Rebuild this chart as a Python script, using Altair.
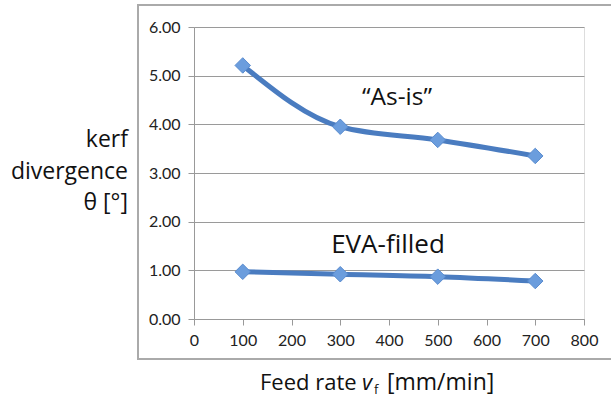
import altair as alt
import pandas as pd

feed = [100, 300, 500, 700]
as_is = [5.21, 3.95, 3.68, 3.35]
eva = [0.97, 0.92, 0.87, 0.78]
series_names = ["As-is", "EVA-filled"]

df = pd.DataFrame({
    "feed": feed * 2,
    "theta": as_is + eva,
    "series": [series_names[0]] * 4 + [series_names[1]] * 4,
})

W, H = 390, 292
LINE = "#4a7cc0"
FILL = "#6b9ddd"
TICKFONT = "Lato"

x_scale = alt.Scale(domain=[0, 800], nice=False, zero=True)
y_scale = alt.Scale(domain=[0, 6], nice=False)

base = alt.Chart(df)

lines = base.mark_line(strokeWidth=5, color=LINE, interpolate="monotone").encode(
    x=alt.X("feed:Q", scale=x_scale,
            axis=alt.Axis(values=[0, 100, 200, 300, 400, 500, 600, 700, 800], title=None,
                          grid=False, domainColor="#999999", tickColor="#999999",
                          tickSize=6, labelFont=TICKFONT, labelFontSize=16,
                          labelColor="#222222", labelPadding=7, labelFlush=False)),
    y=alt.Y("theta:Q", scale=y_scale,
            axis=alt.Axis(values=[0, 1, 2, 3, 4, 5, 6], format=".2f", title=None,
                          grid=True, gridColor="#9a9a9a", gridWidth=1,
                          domainColor="#999999", tickColor="#999999", tickSize=6,
                          labelFont=TICKFONT, labelFontSize=16, labelColor="#222222",
                          labelPadding=8)),
    detail="series:N",
)

points = base.mark_point(shape="diamond", filled=True, size=240, color=FILL,
                         stroke="#5a8ccf", strokeWidth=1, opacity=1).encode(
    x=alt.X("feed:Q", scale=x_scale),
    y=alt.Y("theta:Q", scale=y_scale),
)

frame = alt.Chart(pd.DataFrame({"a": [0]})).mark_rect(
    fill=None, stroke="#aaaaaa", strokeWidth=2, clip=False
).encode(x=alt.value(-56), x2=alt.value(440), y=alt.value(-22), y2=alt.value(332))

def txt(s, x, y, size, align="center", style="normal", font="Open Sans"):
    return alt.Chart(pd.DataFrame({"t": [s]})).mark_text(
        align=align, baseline="middle", fontSize=size, font=font, fontStyle=style,
        color="#111111", clip=False
    ).encode(text="t:N", x=alt.value(x), y=alt.value(y))

ann = (
    txt("\u201cAs-is\u201d", 203, 71, 24.5)
    + txt("EVA-filled", 194, 218, 26)
    + txt("kerf", -66, 113, 23, align="right")
    + txt("divergence", -66, 145, 23, align="right")
    + txt("\u03b8 [\u00b0]", -66, 176, 23, align="right")
    + txt("Feed rate", 66, 356, 22, align="left")
    + txt("v", 168, 356, 22, align="left", style="italic")
    + txt("f", 180, 363, 13, align="left")
    + txt("[mm/min]", 193, 356, 23, align="left")
)

chart = alt.layer(frame, lines, points, ann).properties(
    width=W, height=H,
    autosize=alt.AutoSizeParams(type="none"),
    padding={"left": 194, "top": 27, "right": 27, "bottom": 84},
).configure_view(stroke=None).configure(background="white")

chart.save("out.html", embed_options={"renderer": "svg", "actions": False})
